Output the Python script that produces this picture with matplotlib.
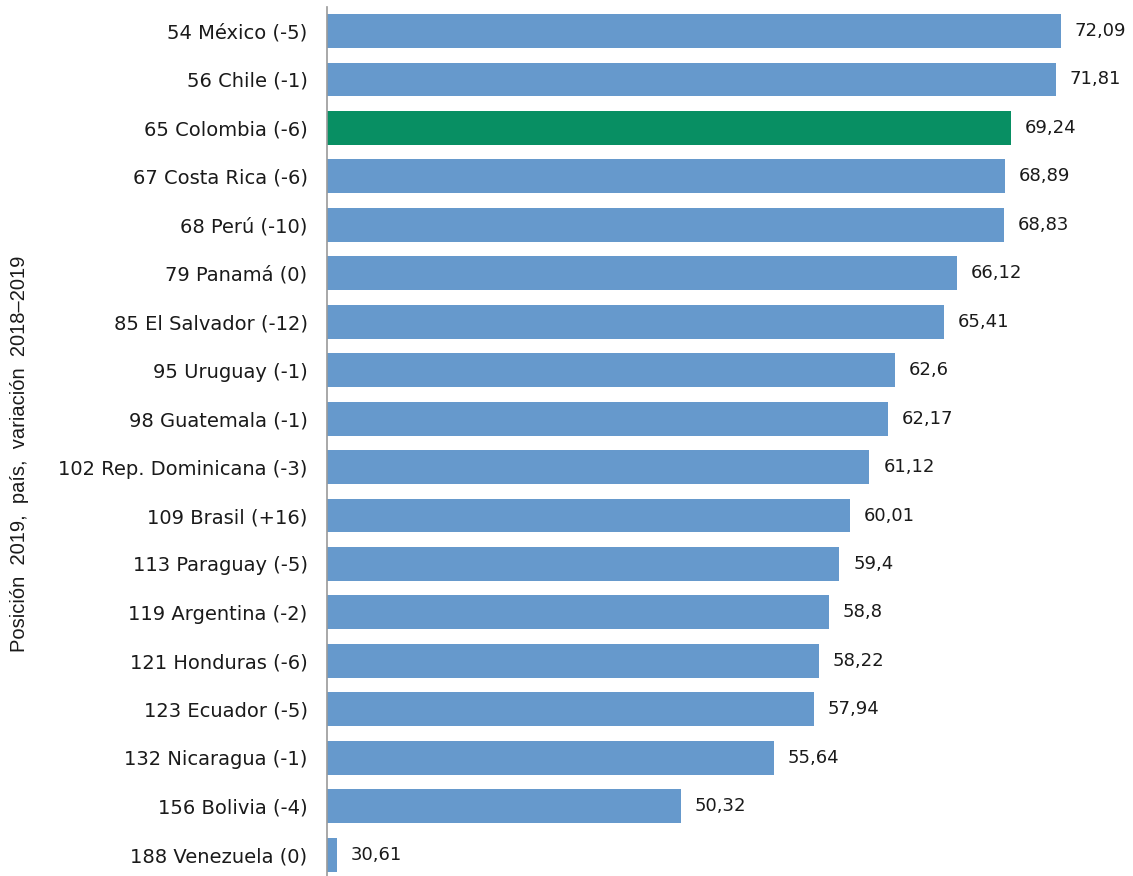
import matplotlib
matplotlib.use("Agg")
import matplotlib.pyplot as plt

countries = ["54 México (-5)", "56 Chile (-1)", "65 Colombia (-6)", "67 Costa Rica (-6)",
             "68 Perú (-10)", "79 Panamá (0)", "85 El Salvador (-12)", "95 Uruguay (-1)",
             "98 Guatemala (-1)", "102 Rep. Dominicana (-3)", "109 Brasil (+16)",
             "113 Paraguay (-5)", "119 Argentina (-2)", "121 Honduras (-6)",
             "123 Ecuador (-5)", "132 Nicaragua (-1)", "156 Bolivia (-4)", "188 Venezuela (0)"]
values = [72.09, 71.81, 69.24, 68.89, 68.83, 66.12, 65.41, 62.6, 62.17, 61.12, 60.01,
          59.4, 58.8, 58.22, 57.94, 55.64, 50.32, 30.61]
labels = ["72,09", "71,81", "69,24", "68,89", "68,83", "66,12", "65,41", "62,6", "62,17",
          "61,12", "60,01", "59,4", "58,8", "58,22", "57,94", "55,64", "50,32", "30,61"]
highlight = "65 Colombia (-6)"

BLUE = "#6699cc"
GREEN = "#088f63"
FONT = "DejaVu Sans"
TXT = "#1a1a1a"

W, H = 1133, 876
fig = plt.figure(figsize=(W / 100, H / 100), dpi=100)
ax = fig.add_axes([327 / W, 0, (W - 327) / W, 1 - 6.8 / H])

x0 = 30.04
colors = [GREEN if c == highlight else BLUE for c in countries]
ypos = list(range(len(countries)))
ax.barh(ypos, [v - x0 for v in values], left=x0, height=0.7, color=colors)

for y, v, lab in zip(ypos, values, labels):
    ax.text(v + 0.8, y, lab, va="center", ha="left", fontsize=13, family=FONT, color=TXT)

ax.set_xlim(x0, x0 + (W - 327) / 17.45)
ax.set_ylim(17.44, -0.5)
ax.set_yticks(ypos)
ax.set_yticklabels(countries, family=FONT, fontsize=14, color=TXT)
ax.tick_params(axis="y", length=0, pad=14)
ax.set_xticks([])
for s in ["top", "right", "bottom"]:
    ax.spines[s].set_visible(False)
ax.spines["left"].set_color("#999999")
ax.spines["left"].set_linewidth(1.2)

fig.text(20 / W, 1 - 454 / H, "Posición  2019,  país,  variación  2018–2019", rotation=90,
         va="center", ha="center", fontsize=14.5, family="Liberation Sans", color=TXT)

fig.savefig("out.png", dpi=100)
